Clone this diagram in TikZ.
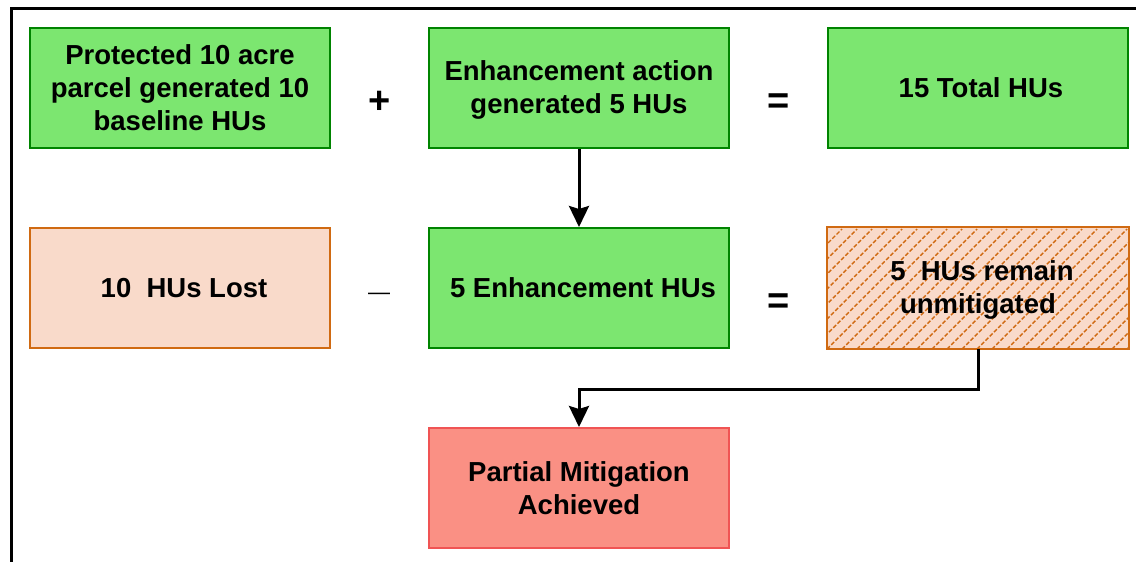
\documentclass[tikz,border=0pt]{standalone}
\usepackage{fontspec}
\setmainfont{Liberation Sans}
\usetikzlibrary{arrows.meta,calc}

\definecolor{gainfill}{RGB}{124,230,112}
\definecolor{gainline}{RGB}{0,132,0}
\definecolor{lossfill}{RGB}{249,218,202}
\definecolor{lossline}{RGB}{208,106,18}
\definecolor{resultfill}{RGB}{250,144,132}
\definecolor{resultline}{RGB}{240,84,84}

\tikzset{
  box/.style={draw, line width=2pt, minimum width=300pt, minimum height=120pt,
    inner sep=0pt, align=center,
    font=\bfseries\fontsize{27.5}{33}\selectfont},
  gain/.style={box, fill=gainfill, draw=gainline},
  loss/.style={box, fill=lossfill, draw=lossline},
  result/.style={box, fill=resultfill, draw=resultline},
  operator/.style={inner sep=0pt, anchor=base, font=\bfseries\fontsize{38}{44}\selectfont},
  flow/.style={line width=3pt, -{Stealth[width=20pt,length=21pt,inset=3pt]}},
  hatch/.style={draw=lossline, line width=1.4pt, dash pattern=on 4pt off 2pt},
}

\begin{document}
\begin{tikzpicture}[x=1pt, y=-1pt]
  \useasboundingbox (0,0) rectangle (1136,562);

  % outer frame (only its left and top edges fall inside the page)
  \coordinate (frameBL) at (11,562);
  \coordinate (frameTL) at (11,8);
  \coordinate (frameTR) at (1136,8);
  \draw[line width=3pt] (frameBL) -- (frameTL) -- (frameTR);

  % first row
  \node[gain] (base) at (180,88) {Protected 10 acre\\parcel generated 10\\baseline HUs};
  \node[gain] (enh) at (579,88) {};
  \node[font=\bfseries\fontsize{27.5}{33}\selectfont, align=center, inner sep=0pt]
    (enhText) at (579,90) {Enhancement action\\generated 5 HUs};
  \node[gain] (total) at (978,88) {\hspace*{6pt}15 Total HUs};
  \node[operator] (plus) at (379.5,113) {+};
  \node[operator] (eqA) at (778.5,113) {=};

  % second row
  \node[loss] (lost) at (180,288) {\hspace*{8pt}10\ \ HUs Lost};
  \node[gain] (enhHU) at (579,288) {\hspace*{8pt}5 Enhancement HUs};
  \node[loss, fill=none] (remain) at (978,288) {};
  \begin{scope}
    \clip (remain.south west) rectangle (remain.north east);
    \fill[lossfill] (remain.south west) rectangle (remain.north east);
    \foreach \i in {-120,-105,...,300}
      \draw[hatch] ($(remain.south west)+(\i,0)$) -- ++(120,-120);
  \end{scope}
  \draw[lossline, line width=2pt] (remain.south west) rectangle (remain.north east);
  \node[font=\bfseries\fontsize{27.5}{33}\selectfont, align=center, inner sep=0pt]
    (remainText) at (978,289.5) {\hspace*{8pt}5\ \ HUs remain\\unmitigated};
  \node[inner sep=0pt, anchor=base, font=\fontsize{22}{26}\selectfont] (minus) at (379,299) {—};
  \node[operator] (eqB) at (778.5,313) {=};

  % third row
  \node[result] (partial) at (579,488) {Partial Mitigation\\Achieved};

  % connectors
  \draw[flow] (enh.south) -- (enhHU.north);
  \draw[flow] (remain.south) -- ++(0,40) -| (partial.north);
\end{tikzpicture}
\end{document}
